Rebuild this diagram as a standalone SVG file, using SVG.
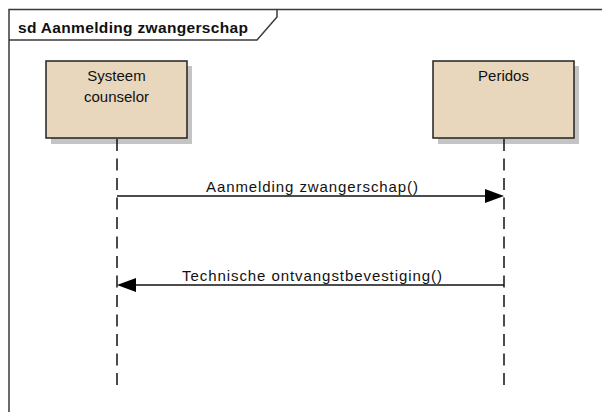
<svg xmlns="http://www.w3.org/2000/svg" width="602" height="412" viewBox="0 0 602 412">
  <style>
    .frame { fill: none; stroke: #3a3a3a; stroke-width: 1.5; }
    .box { fill: #E8D7BD; stroke: #222; stroke-width: 1.5; }
    .shadow { fill: #c4c4c4; }
    .life { stroke: #111; stroke-width: 1.5; stroke-dasharray: 12 7.5; fill: none; }
    .msg { stroke: #111; stroke-width: 1.3; fill: none; }
    .head { fill: #000; }
    .t { font-family: "Liberation Sans", Arial, sans-serif; font-size: 15px; fill: #111; }
    .title { font-family: "Liberation Sans", Arial, sans-serif; font-size: 15.5px; font-weight: bold; fill: #111; }
  </style>
  <rect width="602" height="412" fill="#fff"/>
  <g id="frame">
    <polyline class="frame" points="9,412 9,9.5 602,9.5"/>
    <polyline class="frame" points="9,40 257,40 277,17 277,9.5"/>
    <text class="title" x="18" y="33" textLength="230" lengthAdjust="spacing">sd Aanmelding zwangerschap</text>
  </g>
  <g id="systeem-counselor">
    <rect class="shadow" x="51" y="66" width="141" height="78"/>
    <rect class="box" x="46" y="61" width="141" height="77"/>
    <text class="t" x="116.5" y="80.5" text-anchor="middle">Systeem</text>
    <text class="t" x="116.5" y="102" text-anchor="middle">counselor</text>
    <line class="life" x1="117" y1="139" x2="117" y2="386"/>
  </g>
  <g id="peridos">
    <rect class="shadow" x="438" y="66" width="141" height="78"/>
    <rect class="box" x="433" y="61" width="141" height="77"/>
    <text class="t" x="503.5" y="80.5" text-anchor="middle">Peridos</text>
    <line class="life" x1="504" y1="139" x2="504" y2="386"/>
  </g>
  <g id="connectors">
    <g id="msg1">
      <line class="msg" x1="117" y1="196" x2="486" y2="196"/>
      <polygon class="head" points="504,196 485,189 485,203"/>
      <text class="t" x="206" y="191.5" textLength="212" lengthAdjust="spacing">Aanmelding zwangerschap()</text>
    </g>
    <g id="msg2">
      <line class="msg" x1="504" y1="285" x2="135" y2="285"/>
      <polygon class="head" points="117,285 136,278 136,292"/>
      <text class="t" x="182" y="281" textLength="260" lengthAdjust="spacing">Technische ontvangstbevestiging()</text>
    </g>
  </g>
</svg>
